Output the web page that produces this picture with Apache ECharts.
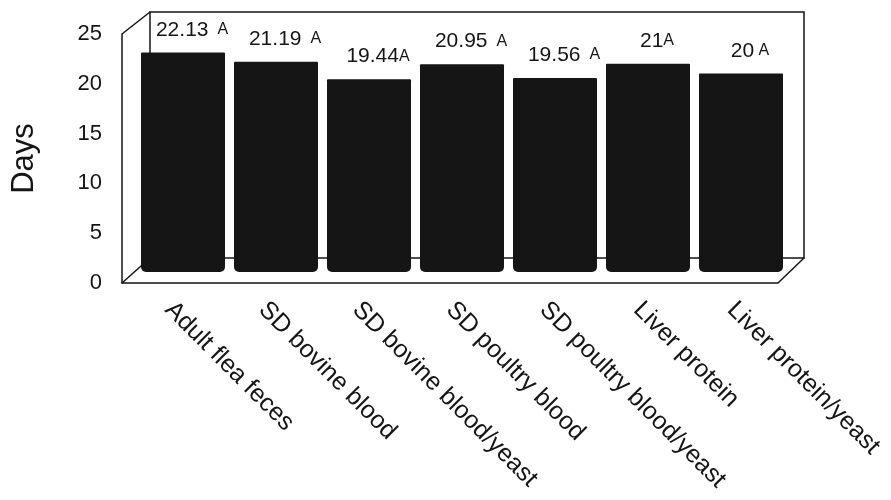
<!DOCTYPE html>
<html>
<head>
<meta charset="utf-8">
<script src="https://cdn.jsdelivr.net/npm/echarts@6/dist/echarts.min.js"></script>
<style>
  html, body { margin: 0; padding: 0; background: #fff; }
  #chart { width: 891px; height: 500px; }
</style>
</head>
<body>
<div id="chart"></div>
<script>
const categories = [
  'Adult flea feces',
  'SD bovine blood',
  'SD bovine blood/yeast',
  'SD poultry blood',
  'SD poultry blood/yeast',
  'Liver protein',
  'Liver protein/yeast'
];
const days = [22.13, 21.19, 19.44, 20.95, 19.56, 21, 20];
const groups = ['A', 'A', 'A', 'A', 'A', 'A', 'A'];
const groupGap = ['  ', '  ', '', '  ', '  ', '', ' '];
const yMin = 0;
const yMax = 25;
const yStep = 5;

// pseudo 3D box: front plane (axes), middle plane (bars), back wall
const front = { left: 122, top: 34, width: 656, height: 249 };
const mid = { left: 136.5, top: 24, width: 651, height: 248 };
const back = { left: 150, top: 12, width: 654, height: 246 };

const ink = '#151515';
const font = '"Liberation Sans", Arial, sans-serif';

const chart = echarts.init(document.getElementById('chart'));

const line = (x1, y1, x2, y2, z) => ({
  type: 'line',
  z: z,
  shape: { x1, y1, x2, y2 },
  style: { stroke: ink, lineWidth: 1.5 }
});

const fb = front.top + front.height;
const bb = back.top + back.height;
const fr = front.left + front.width;
const br = back.left + back.width;

chart.setOption({
  animation: false,
  backgroundColor: '#fff',
  textStyle: { fontFamily: font },
  grid: [
    Object.assign({ show: false }, front),
    Object.assign({ show: false }, mid),
    Object.assign({ show: true, borderColor: ink, borderWidth: 1.5, backgroundColor: 'transparent', z: 0 }, back)
  ],
  xAxis: [
    {
      type: 'category',
      gridIndex: 0,
      data: categories,
      axisLine: { lineStyle: { color: ink, width: 1.5 } },
      axisTick: { show: false },
      axisLabel: {
        interval: 0,
        rotate: -45,
        margin: 23,
        color: ink,
        fontSize: 25,
        fontFamily: font
      }
    },
    { type: 'category', gridIndex: 1, data: categories, show: false },
    { type: 'category', gridIndex: 2, data: categories, show: false }
  ],
  yAxis: [
    {
      type: 'value',
      gridIndex: 0,
      min: yMin,
      max: yMax,
      interval: yStep,
      name: 'Days',
      nameLocation: 'middle',
      nameGap: 82,
      nameTextStyle: { color: ink, fontSize: 31, fontFamily: font },
      axisLine: { show: true, lineStyle: { color: ink, width: 1.5 } },
      axisTick: { show: false },
      splitLine: { show: false },
      axisLabel: {
        margin: 20,
        color: ink,
        fontSize: 22,
        fontFamily: font,
        padding: [0, 0, 4, 0]
      }
    },
    { type: 'value', gridIndex: 1, min: yMin, max: yMax, interval: yStep, show: false, splitLine: { show: false } },
    { type: 'value', gridIndex: 2, min: yMin, max: yMax, interval: yStep, show: false, splitLine: { show: false } }
  ],
  series: [
    {
      type: 'bar',
      xAxisIndex: 1,
      yAxisIndex: 1,
      data: days,
      barWidth: 84,
      z: 2,
      itemStyle: { color: ink, borderRadius: [1, 1, 5, 5] },
      label: {
        show: true,
        position: 'top',
        distance: 12,
        offset: [9, 0],
        formatter: p => '{v|' + String(p.value) + '}{a|' + groupGap[p.dataIndex] + groups[p.dataIndex] + '}',
        rich: {
          v: { fontSize: 21, color: ink, fontFamily: font },
          a: { fontSize: 16, color: ink, fontFamily: font, padding: [0, 0, 1, 0] }
        }
      }
    }
  ],
  graphic: [
    line(front.left, front.top, back.left, back.top, 1),
    line(front.left, fb, back.left, bb, 1),
    line(fr, fb, br, bb, 1)
  ]
});
</script>
</body>
</html>
